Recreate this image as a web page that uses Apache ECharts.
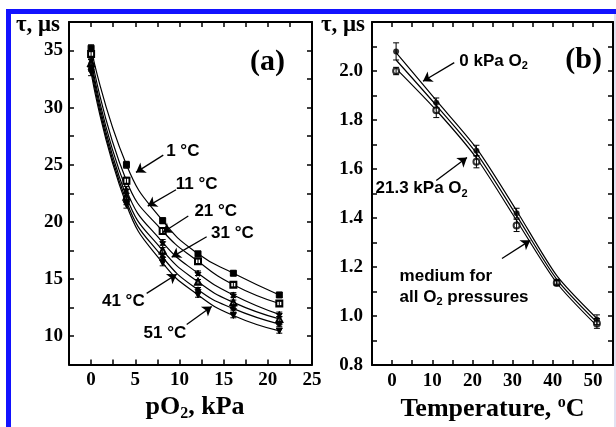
<!DOCTYPE html>
<html>
<head>
<meta charset="utf-8">
<script src="https://cdn.jsdelivr.net/npm/echarts@6/dist/echarts.min.js"></script>
<style>
  html, body { margin: 0; padding: 0; background: #fff; overflow: hidden; }
  #chart { width: 616px; height: 427px; }
</style>
</head>
<body>
<div id="chart"></div>
<script>
// ---- Panel (a): lifetime vs oxygen partial pressure at six temperatures ----
const pO2 = [0, 4, 8.1, 12.1, 16.1, 21.3];
const tempLabels = ['1 °C', '11 °C', '21 °C', '31 °C', '41 °C', '51 °C'];
const tau1 = [35.2, 25.0, 20.1, 17.2, 15.5, 13.6];
const tau11 = [34.7, 23.6, 19.2, 16.55, 14.5, 12.85];
const tau21 = [34.2, 22.8, 18.2, 15.5, 13.6, 11.9];
const tau31 = [33.9, 22.2, 17.5, 14.75, 12.95, 11.5];
const tau41 = [33.5, 21.8, 16.9, 14.05, 12.4, 11.05];
const tau51 = [33.1, 21.5, 16.4, 13.6, 11.8, 10.45];
const errA = [0.3, 0.3, 0.25, 0.2, 0.2, 0.2];

// ---- Panel (b): lifetime vs temperature ----
const temps = [1, 11, 21, 31, 41, 51];
const tau0kPa = [2.08, 1.87, 1.675, 1.42, 1.14, 0.985];
const tau21kPa = [2.0, 1.84, 1.63, 1.37, 1.135, 0.97];
const err0kPa = [0.035, 0.02, 0.022, 0.02, 0.01, 0.02];
const err21kPa = [0.015, 0.03, 0.025, 0.025, 0.01, 0.02];
const fit0kPa = [2.075, 1.88, 1.685, 1.43, 1.165, 0.99];
const fitMedium = [2.045, 1.86, 1.665, 1.41, 1.15, 0.975];
const fit21kPa = [2.01, 1.84, 1.645, 1.39, 1.135, 0.96];

const SERIF = '"Liberation Serif", "Times New Roman", serif';
const SANS = '"Liberation Sans", Arial, sans-serif';
const INK = '#000';

const onStep = (v, step) => Math.abs(v / step - Math.round(v / step)) < 1e-6;
const fmtAx = v => (onStep(v, 5) && v >= 0) ? String(Math.round(v)) : '';
const fmtAy = v => (onStep(v, 5) && v <= 35) ? String(Math.round(v)) : '';
const fmtBx = v => (onStep(v, 10) && v >= 0 && v <= 50) ? String(Math.round(v)) : '';
const fmtBy = v => (onStep(v, 0.2) && v < 2.1) ? v.toFixed(1) : '';

function frameAxis(grid, position, min, max, step, fmt, margin) {
  return {
    type: 'value', gridIndex: grid, position, min, max, interval: step,
    axisLine: { show: true, onZero: false, lineStyle: { color: INK, width: 2 } },
    axisTick: { show: true, inside: true, length: 5, lineStyle: { color: INK, width: 1.5 } },
    axisLabel: fmt ? {
      show: true, margin, formatter: fmt, color: INK,
      fontFamily: SERIF, fontWeight: 'bold', fontSize: 19,
      showMinLabel: true, showMaxLabel: true, hideOverlap: false
    } : { show: false },
    splitLine: { show: false },
    minorTick: { show: false }
  };
}

const nameStyle = {
  color: INK, fontFamily: SERIF, fontWeight: 'bold', fontSize: 26,
  rich: {
    sub: { color: INK, fontFamily: SERIF, fontWeight: 'bold', fontSize: 16, padding: [13, 0, 0, 0] },
    sup: { color: INK, fontFamily: SERIF, fontWeight: 'bold', fontSize: 16, padding: [0, 0, 12, 0] }
  }
};

const xAxes = [
  Object.assign(frameAxis(0, 'bottom', -2.5, 25, 2.5, fmtAx, 6), {
    name: 'pO{sub|2}, kPa', nameLocation: 'middle', nameGap: 26,
    nameTextStyle: Object.assign({ padding: [0, 0, 0, 9] }, nameStyle)
  }),
  frameAxis(0, 'top', -2.5, 25, 2.5, null),
  Object.assign(frameAxis(1, 'bottom', -5, 55, 5, fmtBx, 6), {
    name: 'Temperature, {sup|o}C', nameLocation: 'middle', nameGap: 27,
    nameTextStyle: nameStyle
  }),
  frameAxis(1, 'top', -5, 55, 5, null)
];
const yAxes = [
  frameAxis(0, 'left', 7.5, 37.5, 2.5, fmtAy, 6),
  frameAxis(0, 'right', 7.5, 37.5, 2.5, null),
  frameAxis(1, 'left', 0.8, 2.2, 0.1, fmtBy, 9),
  frameAxis(1, 'right', 0.8, 2.2, 0.1, null)
];

// Vertical error bars with short caps, positioned through the axes
function errorBars(xs, ys, errs, xi, yi) {
  return {
    type: 'custom', xAxisIndex: xi, yAxisIndex: yi, silent: true, z: 4,
    data: xs.map((x, i) => [x, ys[i] - errs[i], ys[i] + errs[i]]),
    encode: { x: 0, y: [1, 2] },
    renderItem: (params, api) => {
      const x = api.value(0);
      const lo = api.coord([x, api.value(1)]);
      const hi = api.coord([x, api.value(2)]);
      const w = 3;
      const st = { stroke: INK, lineWidth: 1 };
      return {
        type: 'group', children: [
          { type: 'line', shape: { x1: lo[0], y1: lo[1], x2: hi[0], y2: hi[1] }, style: st },
          { type: 'line', shape: { x1: lo[0] - w, y1: lo[1], x2: lo[0] + w, y2: lo[1] }, style: st },
          { type: 'line', shape: { x1: hi[0] - w, y1: hi[1], x2: hi[0] + w, y2: hi[1] }, style: st }
        ]
      };
    }
  };
}

const STAR = 'path://M0,-10L2.9,-4L9.5,-3.1L4.7,1.5L5.9,8.1L0,5L-5.9,8.1L-4.7,1.5L-9.5,-3.1L-2.9,-4Z';
const symbolsA = ['rect', 'emptyRect', STAR, 'emptyTriangle', 'diamond', 'triangle'];
const rotateA = [0, 0, 0, 0, 0, 180];
const seriesA = [tau1, tau11, tau21, tau31, tau41, tau51];

// Annotation arrows and their captions, in data units of each panel
const annotA = [
  { at: [10.38, 26.16], from: [8.17, 25.84], to: [5.08, 24.33] },
  { at: [11.95, 23.28], from: [9.61, 22.81], to: [6.41, 21.38] },
  { at: [14.11, 20.95], from: [11.0, 20.51], to: [8.1, 19.07] },
  { at: [16.0, 18.96], from: [13.08, 18.7], to: [9.12, 16.91] },
  { at: [3.65, 13.06], from: [6.29, 13.74], to: [9.69, 15.41] },
  { at: [8.36, 10.28], from: [10.82, 11.01], to: [13.65, 12.59] }
];
const annotB = [
  { text: '0 kPa O{sub|2}', at: [25.27, 2.04], from: [15.48, 2.034], to: [7.69, 1.958], align: 'center' },
  { text: '21.3 kPa O{sub|2}', at: [7.35, 1.52], from: [11.0, 1.553], to: [18.65, 1.647], align: 'center' },
  { text: 'medium for\nall O{sub|2} pressures', at: [1.87, 1.121], from: [27.36, 1.235], to: [34.4, 1.309], align: 'left' }
];

const noteLabel = {
  show: true, position: 'inside', color: INK,
  fontFamily: SANS, fontWeight: 'bold', fontSize: 17, lineHeight: 21,
  rich: { sub: { color: INK, fontFamily: SANS, fontWeight: 'bold', fontSize: 11, padding: [10, 0, 0, 0] } }
};
function arrows(list) {
  return {
    silent: true, animation: false, symbol: ['none', 'arrow'], symbolSize: 9,
    lineStyle: { color: INK, width: 1.3, type: 'solid' },
    label: { show: false }, emphasis: { disabled: true },
    data: list.map(a => [{ coord: a.from }, { coord: a.to }])
  };
}
function captions(list, texts) {
  return {
    silent: true, animation: false, symbol: 'circle', symbolSize: 0,
    itemStyle: { color: 'transparent' },
    label: noteLabel,
    data: list.map((a, i) => ({
      coord: a.at, value: 0,
      label: { formatter: texts[i], align: a.align || 'center', verticalAlign: 'middle' }
    }))
  };
}

const series = [];
seriesA.forEach((vals, i) => {
  const s = {
    type: 'line', xAxisIndex: 0, yAxisIndex: 0, smooth: true,
    data: pO2.map((x, j) => [x, vals[j]]),
    symbol: symbolsA[i], symbolRotate: rotateA[i], symbolSize: 6, showSymbol: true,
    lineStyle: { color: INK, width: 1.2 },
    itemStyle: { color: INK, borderColor: INK, borderWidth: 1 },
    emphasis: { disabled: true }, z: 3
  };
  if (i === 0) {
    s.markLine = arrows(annotA);
    s.markPoint = captions(annotA, tempLabels);
  }
  series.push(s);
  series.push(errorBars(pO2, vals, errA, 0, 0));
});

[fit0kPa, fitMedium, fit21kPa].forEach((vals, i) => {
  const s = {
    type: 'line', xAxisIndex: 2, yAxisIndex: 2, smooth: 0.25, showSymbol: false,
    data: temps.map((t, j) => [t, vals[j]]),
    lineStyle: { color: INK, width: 1.2 }, emphasis: { disabled: true }, z: 2
  };
  if (i === 0) {
    s.markLine = arrows(annotB);
    s.markPoint = captions(annotB, annotB.map(a => a.text));
  }
  series.push(s);
});
series.push({
  type: 'scatter', xAxisIndex: 2, yAxisIndex: 2, symbol: 'circle', symbolSize: 6,
  data: temps.map((t, j) => [t, tau0kPa[j]]),
  itemStyle: { color: INK }, emphasis: { disabled: true }, z: 3
});
series.push({
  type: 'scatter', xAxisIndex: 2, yAxisIndex: 2, symbol: 'emptyCircle', symbolSize: 6,
  data: temps.map((t, j) => [t, tau21kPa[j]]),
  itemStyle: { color: INK, borderColor: INK, borderWidth: 1 }, emphasis: { disabled: true }, z: 3
});
series.push(errorBars(temps, tau0kPa, err0kPa, 2, 2));
series.push(errorBars(temps, tau21kPa, err21kPa, 2, 2));

const chart = echarts.init(document.getElementById('chart'), null, { renderer: 'canvas' });
chart.setOption({
  animation: false,
  backgroundColor: '#fff',
  grid: [
    { left: 69, top: 22, width: 243, height: 347 },
    { left: 372, top: 22, width: 241, height: 347 }
  ],
  xAxis: xAxes,
  yAxis: yAxes,
  series,
  graphic: [
    { type: 'rect', shape: { x: 6, y: 9, width: 610, height: 5 }, style: { fill: '#1212ff' }, silent: true },
    { type: 'rect', shape: { x: 6, y: 9, width: 5, height: 418 }, style: { fill: '#1212ff' }, silent: true },
    { type: 'rect', shape: { x: 614, y: 14, width: 2, height: 413 }, style: { fill: '#e2e2f2' }, silent: true },
    { type: 'text', x: 60, y: 25, silent: true,
      style: { text: 'τ, μs', font: 'bold 23px ' + SERIF, fill: INK, align: 'right', verticalAlign: 'middle', textAlign: 'right', textVerticalAlign: 'middle' } },
    { type: 'text', x: 365, y: 25, silent: true,
      style: { text: 'τ, μs', font: 'bold 23px ' + SERIF, fill: INK, align: 'right', verticalAlign: 'middle', textAlign: 'right', textVerticalAlign: 'middle' } },
    { type: 'text', x: 285, y: 62, silent: true,
      style: { text: '(a)', font: 'bold 30px ' + SERIF, fill: INK, align: 'right', verticalAlign: 'middle', textAlign: 'right', textVerticalAlign: 'middle' } },
    { type: 'text', x: 602, y: 60, silent: true,
      style: { text: '(b)', font: 'bold 30px ' + SERIF, fill: INK, align: 'right', verticalAlign: 'middle', textAlign: 'right', textVerticalAlign: 'middle' } }
  ]
});
</script>
</body>
</html>
